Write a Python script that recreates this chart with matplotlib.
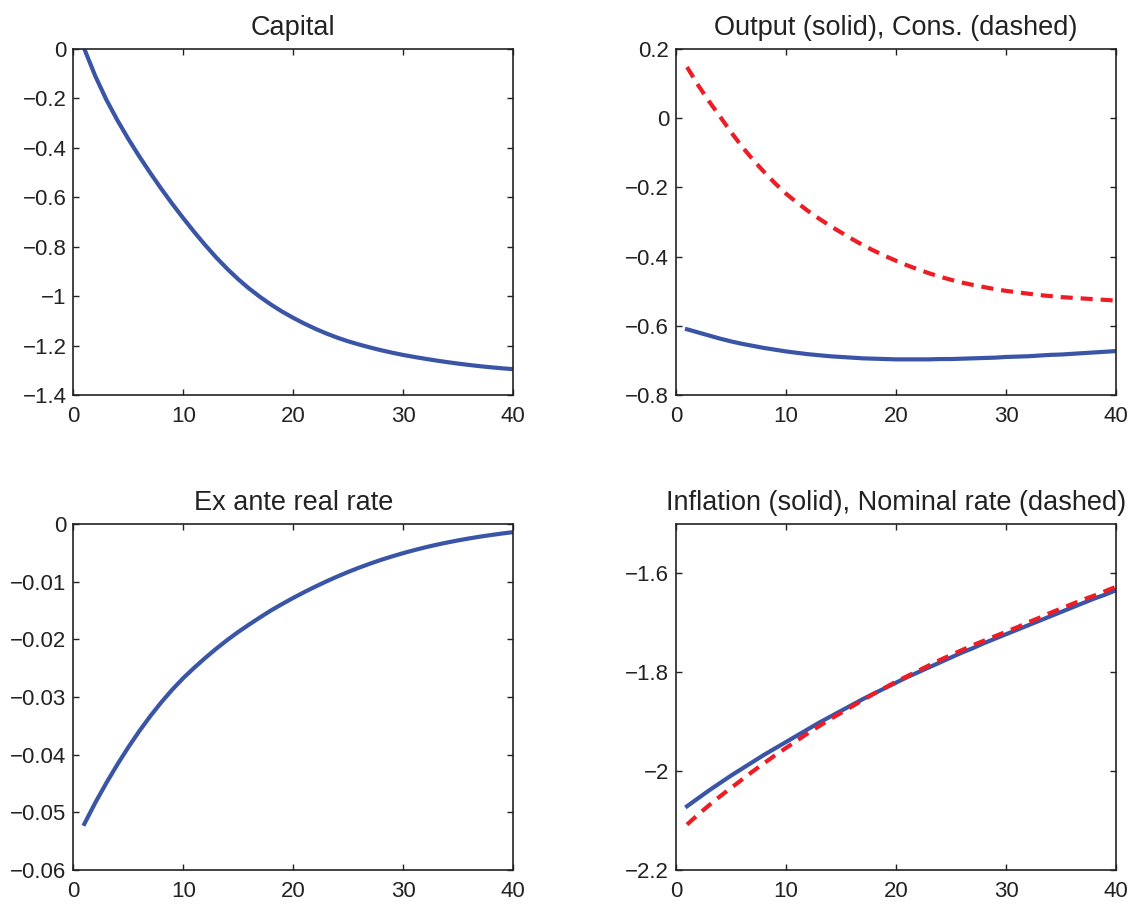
import numpy as np
import matplotlib
matplotlib.use('Agg')
import matplotlib.pyplot as plt
from matplotlib.ticker import FuncFormatter

plt.rcParams['font.family'] = ['Liberation Sans', 'DejaVu Sans']

# impulse responses, periods 1..40
periods = list(range(1, 41))

capital = [0.000, -0.110, -0.205, -0.288, -0.364, -0.435, -0.502, -0.566, -0.627, -0.685,
           -0.741, -0.794, -0.844, -0.890, -0.932, -0.970, -1.004, -1.035, -1.063, -1.088,
           -1.111, -1.132, -1.151, -1.168, -1.183, -1.196, -1.208, -1.219, -1.229, -1.238,
           -1.246, -1.2535, -1.2605, -1.267, -1.273, -1.2785, -1.2835, -1.288, -1.292, -1.2955]

output = [-0.610, -0.619, -0.628, -0.637, -0.645, -0.652, -0.658, -0.664, -0.669, -0.674,
          -0.678, -0.682, -0.685, -0.688, -0.690, -0.692, -0.694, -0.695, -0.696, -0.697,
          -0.697, -0.697, -0.697, -0.696, -0.696, -0.695, -0.694, -0.693, -0.692, -0.690,
          -0.689, -0.688, -0.686, -0.684, -0.683, -0.681, -0.679, -0.677, -0.675, -0.673]

consumption = [0.148, 0.096, 0.049, 0.005, -0.040, -0.082, -0.120, -0.155, -0.188, -0.218,
               -0.244, -0.268, -0.290, -0.311, -0.330, -0.349, -0.367, -0.383, -0.398, -0.412,
               -0.425, -0.437, -0.448, -0.458, -0.467, -0.475, -0.482, -0.488, -0.494, -0.499,
               -0.503, -0.507, -0.511, -0.514, -0.517, -0.519, -0.521, -0.523, -0.525, -0.527]

real_rate = [-0.0520, -0.0483, -0.0449, -0.0417, -0.0387, -0.0359, -0.0333, -0.0309, -0.0287, -0.0267,
             -0.0249, -0.0232, -0.0216, -0.0201, -0.0187, -0.0174, -0.01615, -0.01495, -0.01385, -0.0128,
             -0.0118, -0.01085, -0.00995, -0.0091, -0.0083, -0.00755, -0.00685, -0.0062, -0.0056, -0.00504,
             -0.00452, -0.00404, -0.0036, -0.0032, -0.00283, -0.00249, -0.00218, -0.0019, -0.00164, -0.0014]

inflation = [-2.071, -2.055, -2.039, -2.024, -2.009, -1.995, -1.981, -1.967, -1.954, -1.941,
             -1.928, -1.915, -1.902, -1.890, -1.878, -1.866, -1.854, -1.843, -1.832, -1.821,
             -1.810, -1.800, -1.790, -1.780, -1.770, -1.760, -1.751, -1.741, -1.732, -1.723,
             -1.714, -1.705, -1.696, -1.687, -1.678, -1.669, -1.660, -1.651, -1.643, -1.634]

nominal_rate = [-2.108, -2.088, -2.069, -2.051, -2.034, -2.017, -2.000, -1.984, -1.968, -1.953,
                -1.938, -1.923, -1.909, -1.895, -1.882, -1.869, -1.856, -1.843, -1.831, -1.819,
                -1.808, -1.797, -1.786, -1.775, -1.765, -1.755, -1.745, -1.736, -1.727, -1.718,
                -1.709, -1.699, -1.690, -1.680, -1.671, -1.662, -1.653, -1.645, -1.636, -1.627]

titles = ['Capital', 'Output (solid), Cons. (dashed)',
          'Ex ante real rate', 'Inflation (solid), Nominal rate (dashed)']
xticks = [0, 10, 20, 30, 40]
yticks = [[0, -0.2, -0.4, -0.6, -0.8, -1, -1.2, -1.4],
          [0.2, 0, -0.2, -0.4, -0.6, -0.8],
          [0, -0.01, -0.02, -0.03, -0.04, -0.05, -0.06],
          [-1.6, -1.8, -2, -2.2]]
ylims = [(-1.4, 0), (-0.8, 0.2), (-0.06, 0), (-2.2, -1.5)]

blue = '#3a55a6'
red = '#ee1c25'
lw = 3.0


def matlab_fmt(v, pos):
    s = '%g' % round(v, 6)
    if s == '-0':
        s = '0'
    return s.replace('-', '\u2212')


fig = plt.figure(figsize=(11.39, 9.06), dpi=100)
w, h = 0.3863, 0.3819
boxes = [(0.0644, 0.564, w, h), (0.5935, 0.564, w, h),
         (0.0644, 0.0397, w, h), (0.5935, 0.0397, w, h)]
axes = [fig.add_axes(b) for b in boxes]

axes[0].plot(periods, capital, color=blue, lw=lw)
axes[1].plot(periods, output, color=blue, lw=lw)
axes[1].plot(periods, consumption, color=red, lw=lw, dashes=(2.9, 1.9))
axes[2].plot(periods, real_rate, color=blue, lw=lw)
axes[3].plot(periods, inflation, color=blue, lw=lw)
axes[3].plot(periods, nominal_rate, color=red, lw=lw, dashes=(2.9, 1.9))

for i, ax in enumerate(axes):
    ax.set_xlim(0, 40)
    ax.set_ylim(*ylims[i])
    ax.set_xticks(xticks)
    ax.set_yticks(yticks[i])
    ax.xaxis.set_major_formatter(FuncFormatter(matlab_fmt))
    ax.yaxis.set_major_formatter(FuncFormatter(matlab_fmt))
    ax.tick_params(direction='in', length=4, width=1, top=True, right=True,
                   labelsize=16, colors='#222222')
    ax.tick_params(axis='x', pad=8)
    ax.tick_params(axis='y', pad=5)
    for sp in ax.spines.values():
        sp.set_linewidth(1.2)
        sp.set_color('#222222')
    ax.set_title(titles[i], fontsize=19.5, pad=10, color='#222222')

fig.savefig('out.png', dpi=100, facecolor='white')
